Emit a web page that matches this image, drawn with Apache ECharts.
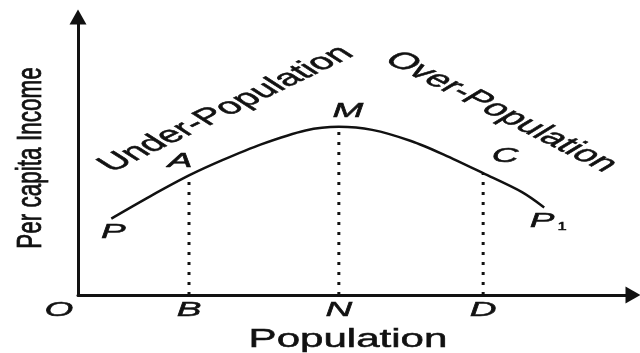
<!DOCTYPE html>
<html>
<head>
<meta charset="utf-8">
<script src="https://cdn.jsdelivr.net/npm/echarts@6/dist/echarts.min.js"></script>
<style>
  html, body { margin: 0; padding: 0; background: #fff; }
  #chart { width: 640px; height: 353px; }
</style>
</head>
<body>
<div id="chart"></div>
<script>
// Population (x) against per capita income (y), arbitrary units 0-100
const popX    = [6,    13,   20, 26,   33,   41,   47,   53,   60,   66,   73,   80, 84];
const incomeY = [27.5, 35.5, 43, 48.5, 54.2, 59.2, 60.5, 59.4, 55.4, 50.4, 43.8, 37, 31.5];

// indices of the curve points A, M and C (dropped onto B, N and D)
const dropIdx    = [2, 6, 10];
const dropNames  = ['B', 'N', 'D'];
const curveNames = ['A', 'M', 'C'];

const INK = '#111';
const FONT = '"Liberation Sans", Arial, Helvetica, sans-serif';

const chart = echarts.init(document.getElementById('chart'));

const curve = popX.map((x, i) => [x, incomeY[i]]);

const dropSeries = dropIdx.map(i => ({
  type: 'line',
  data: [[popX[i], 0], [popX[i], incomeY[i]]],
  showSymbol: false,
  silent: true,
  lineStyle: { color: INK, width: 3, type: [3, 7] },
  z: 1
}));

const axisCommon = {
  type: 'value',
  min: 0,
  max: 100,
  axisLine: {
    show: true,
    symbol: ['none', 'triangle'],
    symbolSize: [17, 15],
    lineStyle: { color: INK, width: 3 }
  },
  axisTick: { show: false },
  axisLabel: { show: false },
  splitLine: { show: false }
};

chart.setOption({
  animation: false,
  backgroundColor: '#fff',
  grid: { left: 78, right: 7, top: 17, bottom: 58 },
  xAxis: Object.assign({}, axisCommon),
  yAxis: Object.assign({}, axisCommon),
  series: [
    {
      type: 'line',
      data: curve,
      smooth: 0.3,
      showSymbol: false,
      silent: true,
      lineStyle: { color: INK, width: 2.5 },
      z: 2
    }
  ].concat(dropSeries)
});

// text element wrapped in a horizontally stretched group
function stretchedText(txt, x, y, opts) {
  return {
    type: 'group',
    x: x,
    y: y,
    scaleX: opts.scaleX || 1,
    silent: true,
    children: [{
      type: 'text',
      rotation: (opts.rotate || 0) * Math.PI / 180,
      style: {
        text: txt,
        fontSize: opts.size,
        fontFamily: FONT,
        fontStyle: opts.italic ? 'italic' : 'normal',
        fill: INK,
        stroke: INK,
        lineWidth: opts.weight == null ? 0.5 : opts.weight,
        align: 'center',
        verticalAlign: 'middle',
        textAlign: 'center',
        textVerticalAlign: 'middle'
      }
    }]
  };
}

function px(x, y) {
  return chart.convertToPixel({ gridIndex: 0 }, [x, y]);
}

const letter = { size: 20, italic: true, scaleX: 1.85 };
const graphics = [];

// point letters on the curve
const pStart = px(popX[0], incomeY[0]);
graphics.push(stretchedText('P', pStart[0] + 2, pStart[1] + 14, letter));

const curveOffsets = [[-9, -14], [9, -15], [22, -17]];
dropIdx.forEach((i, k) => {
  const p = px(popX[i], incomeY[i]);
  graphics.push(stretchedText(curveNames[k], p[0] + curveOffsets[k][0], p[1] + curveOffsets[k][1], letter));
  const b = px(popX[i], 0);
  graphics.push(stretchedText(dropNames[k], b[0], b[1] + 15, letter));
});

const last = popX.length - 1;
const pEnd = px(popX[last], incomeY[last]);
graphics.push(stretchedText('P', pEnd[0] - 2, pEnd[1] + 14, letter));
graphics.push(stretchedText('1', pEnd[0] + 18, pEnd[1] + 20, { size: 11, scaleX: 1.5 }));

const origin = px(0, 0);
graphics.push(stretchedText('O', origin[0] - 19, origin[1] + 15, letter));

// region captions along the curve
graphics.push(stretchedText('Under-Population', 226, 109, { size: 23, scaleX: 1.8, rotate: 41 }));
graphics.push(stretchedText('Over-Population', 501, 112, { size: 23, scaleX: 1.8, rotate: -42.4 }));

// axis titles
graphics.push(stretchedText('Population', 348, 340, { size: 25.5, scaleX: 1.65 }));
graphics.push(stretchedText('Per capita Income', 31, 158, { size: 22.5, scaleX: 1.6, rotate: 90 }));

chart.setOption({ graphic: graphics });
</script>
</body>
</html>
